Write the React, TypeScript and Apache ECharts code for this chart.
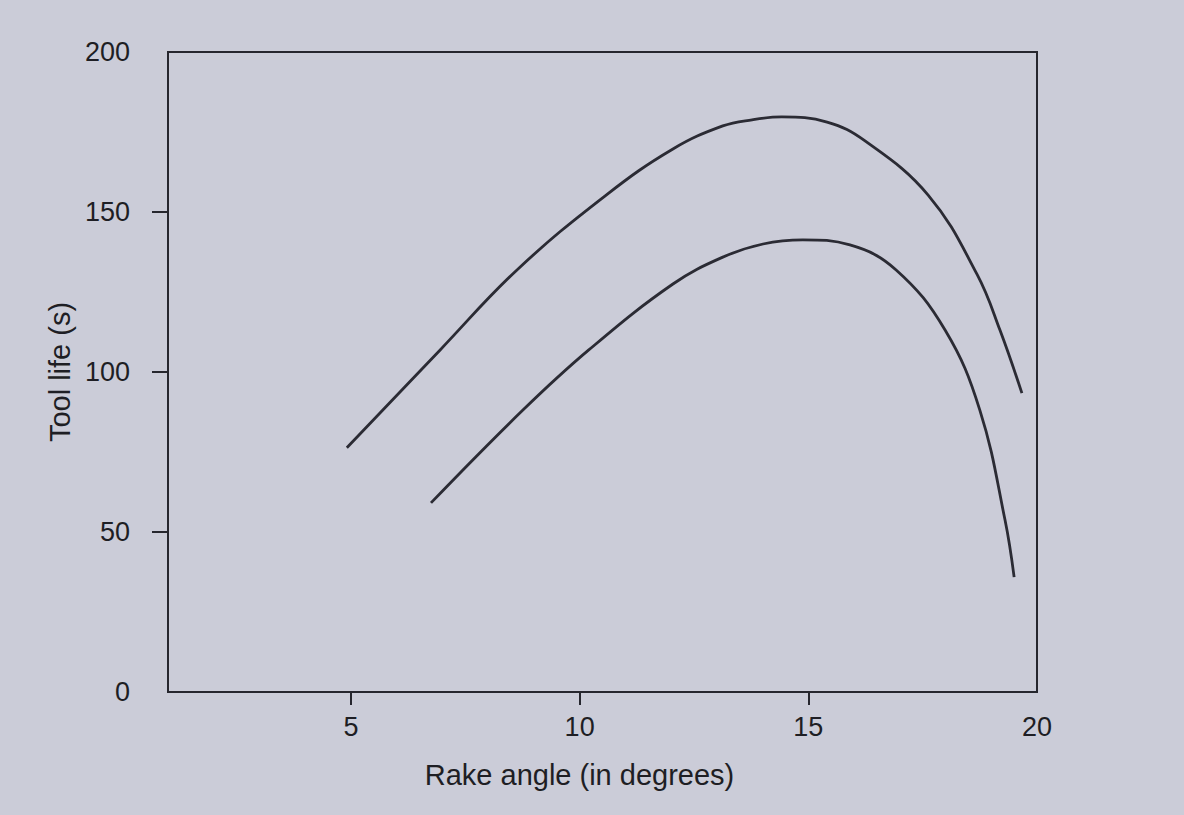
import React, { useEffect, useRef } from "react";
import * as echarts from "echarts";

// Upper curve
const upperX = [4.91, 6.95, 8.63, 10.58, 12.04, 13.13, 13.77, 14.42, 15.41, 16.24, 17.62, 18.69, 19.19, 19.67];
const upperY = [76.3, 106.9, 131.9, 155.3, 169.7, 176.9, 178.8, 179.7, 178.1, 172.2, 155.3, 130.5, 113.1, 93.4];

// Lower curve
const lowerX = [6.75, 8.76, 10.2, 12.04, 13.13, 14.01, 14.88, 15.91, 16.92, 17.99, 18.75, 19.3, 19.5];
const lowerY = [59.1, 88.1, 106.9, 127.5, 135.9, 140.0, 141.3, 139.7, 131.9, 113.1, 88.1, 53.8, 35.9];

const xTickLabels = [5, 10, 15, 20];
const xTicks = [5, 10, 15];
const yTickLabels = [0, 50, 100, 150, 200];
const yTicks = [50, 100, 150];

const xTitle = "Rake angle (in degrees)";
const yTitle = "Tool life (s)";

const ink = "#26262e";
const font = "'Liberation Sans', Arial, sans-serif";

export default function App() {
  const ref = useRef<HTMLDivElement>(null);
  useEffect(() => {
    if (!ref.current) return;
    const chart = echarts.init(ref.current, undefined, { renderer: "svg" });
    const upper = upperX.map((x, i) => [x, upperY[i]]);
    const lower = lowerX.map((x, i) => [x, lowerY[i]]);
    chart.setOption({
      animation: false,
      backgroundColor: "#cbccd8",
      grid: {
        left: 168,
        top: 52,
        right: 147,
        bottom: 123,
        show: true,
        borderColor: ink,
        borderWidth: 2,
        backgroundColor: "transparent",
      },
      xAxis: {
        type: "value",
        min: 1,
        max: 20,
        name: xTitle,
        nameLocation: "middle",
        nameGap: 68,
        nameTextStyle: { fontFamily: font, fontSize: 29, color: "#1e1e24", padding: [0, 46, 0, 0] },
        axisLine: { show: true, lineStyle: { color: ink, width: 2 } },
        axisTick: { show: true, customValues: xTicks, length: 13, lineStyle: { color: ink, width: 2 } },
        axisLabel: {
          customValues: xTickLabels,
          margin: 21,
          fontFamily: font,
          fontSize: 27,
          color: "#1e1e24",
        },
        splitLine: { show: false },
      },
      yAxis: {
        type: "value",
        min: 0,
        max: 200,
        name: yTitle,
        nameLocation: "middle",
        nameGap: 91,
        nameTextStyle: { fontFamily: font, fontSize: 29, color: "#1e1e24" },
        axisLine: { show: true, lineStyle: { color: ink, width: 2 } },
        axisTick: { show: true, customValues: yTicks, length: 16, lineStyle: { color: ink, width: 2 } },
        axisLabel: {
          customValues: yTickLabels,
          margin: 38,
          fontFamily: font,
          fontSize: 27,
          color: "#1e1e24",
        },
        splitLine: { show: false },
      },
      series: [
        {
          name: "Upper",
          type: "line",
          data: upper,
          smooth: 0.4,
          showSymbol: false,
          lineStyle: { color: "#2b2b34", width: 2.8 },
        },
        {
          name: "Lower",
          type: "line",
          data: lower,
          smooth: 0.4,
          showSymbol: false,
          lineStyle: { color: "#2b2b34", width: 2.8 },
        },
      ],
    });
    return () => chart.dispose();
  }, []);
  return (
    <div
      ref={ref}
      style={{ position: "fixed", left: 0, top: 0, width: "1184px", height: "815px" }}
    />
  );
}
